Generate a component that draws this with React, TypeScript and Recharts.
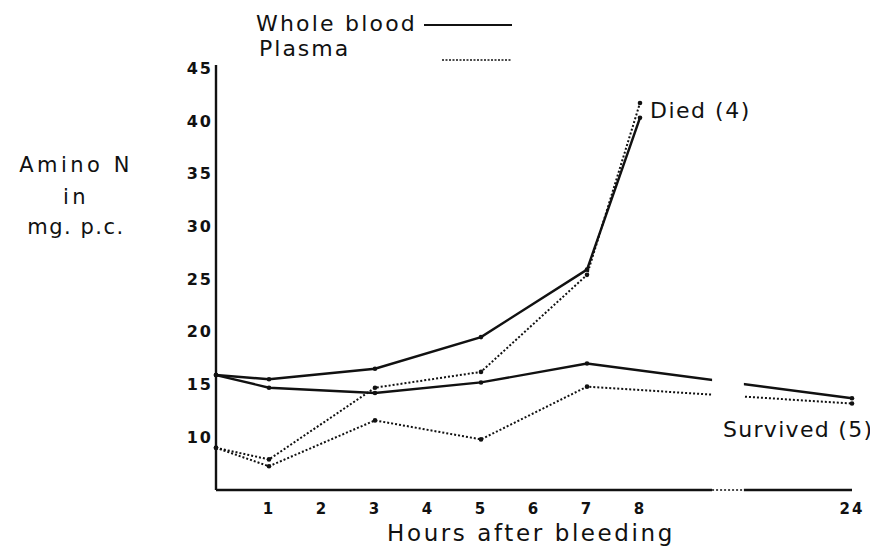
import { LineChart, Line, XAxis, YAxis, ReferenceArea, ReferenceLine } from 'recharts';

// hours after bleeding
const hoursDied = [0, 1, 3, 5, 7, 8];
const hoursSurvived = [0, 1, 3, 5, 7, 24];

// amino N, mg per cent
const wholeDied = [15.9, 15.5, 16.5, 19.5, 25.9, 40.3];
const plasmaDied = [9.0, 7.9, 14.7, 16.2, 25.4, 41.7];
const wholeSurvived = [15.9, 14.7, 14.2, 15.2, 17.0, 13.7];
const plasmaSurvived = [9.0, 7.25, 11.6, 9.8, 14.8, 13.2];

const xTicks = [1, 2, 3, 4, 5, 6, 7, 8, 24];
const yTicks = [10, 15, 20, 25, 30, 35, 40, 45];

// broken axis: 0-8 h drawn to scale, 24 h put in slot 12
const axisPos = (h: number) => (h <= 8 ? h : 12);
const BREAK_FROM = 9.36;
const BREAK_TO = 9.96;

const rows = (hours: number[], vals: number[]) =>
  hours.map((h, i) => ({ x: axisPos(h), v: vals[i] }));

const FONT = '"DejaVu Sans", sans-serif';
const INK = '#111';

const Dot = (props: any) => {
  const { cx, cy } = props;
  if (cx == null || cy == null) return null;
  return <circle cx={cx} cy={cy} r={2.3} fill={INK} />;
};

export default function App() {
  return (
    <div style={{ position: 'relative', width: 870, height: 544, background: '#fff' }}>
      <LineChart
        width={870}
        height={544}
        margin={{ top: 57, right: 26, left: 148, bottom: 22 }}
      >
        <XAxis
          type="number"
          dataKey="x"
          domain={[0, 12]}
          ticks={xTicks.map(axisPos)}
          tickFormatter={(p: number) => String(xTicks.find((h) => axisPos(h) === p))}
          axisLine={false}
          tickLine={false}
          tickSize={0}
          tickMargin={13}
          height={40}
          tick={{ fontSize: 15, fill: INK, fontFamily: FONT, fontWeight: 'bold', letterSpacing: 2 }}
          allowDuplicatedCategory={false}
        />
        <YAxis
          type="number"
          domain={[5, 45.3]}
          ticks={yTicks}
          axisLine={{ stroke: INK, strokeWidth: 2.4 }}
          tickLine={false}
          tickSize={0}
          tickMargin={3}
          width={60}
          tick={{ fontSize: 16, fill: INK, fontFamily: FONT, fontWeight: 'bold', letterSpacing: 2 }}
        />
        <Line data={rows(hoursDied, wholeDied)} dataKey="v" stroke={INK} strokeWidth={2.4}
          dot={<Dot />} activeDot={false} isAnimationActive={false} />
        <Line data={rows(hoursDied, plasmaDied)} dataKey="v" stroke={INK} strokeWidth={2}
          strokeDasharray="2 2" dot={<Dot />} activeDot={false} isAnimationActive={false} />
        <Line data={rows(hoursSurvived, wholeSurvived)} dataKey="v" stroke={INK} strokeWidth={2.4}
          dot={<Dot />} activeDot={false} isAnimationActive={false} />
        <Line data={rows(hoursSurvived, plasmaSurvived)} dataKey="v" stroke={INK} strokeWidth={2}
          strokeDasharray="2 2" dot={<Dot />} activeDot={false} isAnimationActive={false} />
        <ReferenceArea x1={BREAK_FROM} x2={BREAK_TO} y1={10} y2={20} fill="#fff" fillOpacity={1}
          stroke="none" zIndex={1000} />
        <ReferenceLine segment={[{ x: 0, y: 5 }, { x: BREAK_FROM, y: 5 }]} stroke={INK} strokeWidth={2.4} />
        <ReferenceLine segment={[{ x: BREAK_FROM, y: 5 }, { x: BREAK_TO, y: 5 }]} stroke={INK}
          strokeWidth={1.5} strokeDasharray="2 2" />
        <ReferenceLine segment={[{ x: BREAK_TO, y: 5 }, { x: 12, y: 5 }]} stroke={INK} strokeWidth={2.4} />
      </LineChart>

      <svg width={870} height={544} style={{ position: 'absolute', left: 0, top: 0, pointerEvents: 'none' }}>
        <g transform="translate(-8,-8)" fontFamily={FONT} fill={INK}>
          <text x={256} y={31} fontSize={22} letterSpacing={2.2}>Whole blood</text>
          <line x1={424} y1={25} x2={512} y2={25} stroke={INK} strokeWidth={2} />
          <text x={259} y={56} fontSize={22} letterSpacing={2}>Plasma</text>
          <line x1={442} y1={60} x2={512} y2={60} stroke={INK} strokeWidth={1.5} strokeDasharray="2 1.5" />

          <text x={76} y={172} fontSize={21} letterSpacing={3.5} textAnchor="middle">Amino N</text>
          <text x={76} y={204} fontSize={21} letterSpacing={3.5} textAnchor="middle">in</text>
          <text x={76} y={234} fontSize={21} letterSpacing={1.5} textAnchor="middle">mg. p.c.</text>

          <text x={650} y={118} fontSize={22} letterSpacing={1.5}>Died (4)</text>
          <text x={723} y={437} fontSize={22} letterSpacing={1.3}>Survived (5)</text>

          <text x={531} y={541} fontSize={23} letterSpacing={2.6} textAnchor="middle">Hours after bleeding</text>
        </g>
      </svg>
    </div>
  );
}
